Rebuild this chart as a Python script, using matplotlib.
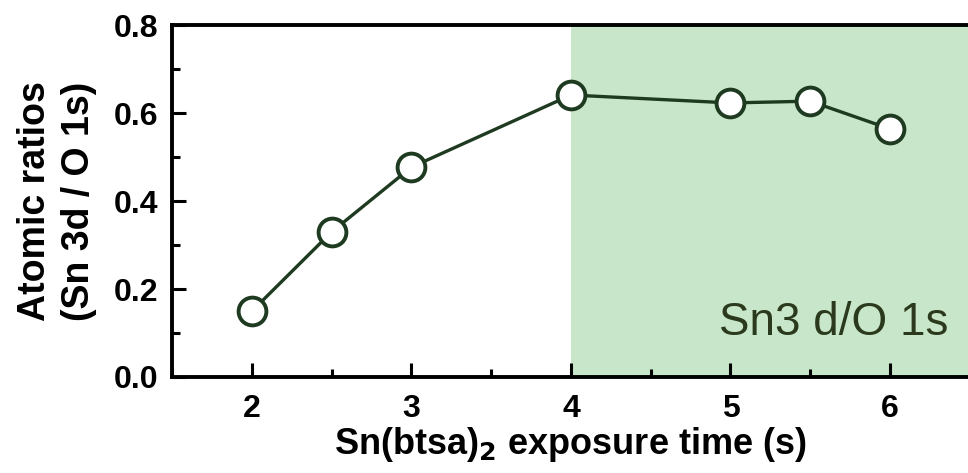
import matplotlib.pyplot as plt
from matplotlib.ticker import MultipleLocator

# datos
tiempo = [2, 2.5, 3, 4, 5, 5.5, 6]
ratio = [0.15, 0.33, 0.477, 0.641, 0.623, 0.627, 0.564]
zona_inicio = 4

plt.rcParams['font.family'] = ['Liberation Sans', 'DejaVu Sans']

fig = plt.figure(figsize=(9.68, 4.73), dpi=100)
ax = fig.add_axes([0.178, 0.203, 0.822, 0.744])

ax.set_xlim(1.5, 6.49)
ax.set_ylim(0, 0.8)

ax.axvspan(zona_inicio, 6.49, color='#c8e6c9', lw=0, zorder=0)

verde = '#1e3a20'
ax.plot(tiempo, ratio, color=verde, lw=2.4, marker='o', markersize=20,
        markerfacecolor='white', markeredgecolor=verde, markeredgewidth=2.8, zorder=3)

ax.text(6.37, 0.095, 'Sn3 d/O 1s', ha='right', va='baseline', fontsize=33,
        color='#2b3a1c')

ax.xaxis.set_major_locator(MultipleLocator(1))
ax.xaxis.set_minor_locator(MultipleLocator(0.5))
ax.yaxis.set_major_locator(MultipleLocator(0.2))
ax.yaxis.set_minor_locator(MultipleLocator(0.1))
ax.yaxis.set_major_formatter(plt.FormatStrFormatter('%.1f'))

ax.tick_params(which='both', direction='in', width=2.2, labelsize=23, top=False, right=False)
ax.tick_params(which='major', length=10)
ax.tick_params(which='minor', length=6)
ax.tick_params(axis='x', pad=12)
ax.tick_params(axis='y', pad=10)
for lbl in ax.get_xticklabels() + ax.get_yticklabels():
    lbl.set_fontweight('bold')

for lado in ['left', 'bottom', 'top']:
    ax.spines[lado].set_linewidth(2.8)
ax.spines['right'].set_visible(False)

ax.set_xlabel('Sn(btsa)$_\\mathbf{2}$ exposure time (s)', fontsize=26, fontweight='bold', labelpad=1)
ax.set_ylabel('Atomic ratios\n(Sn 3d / O 1s)', fontsize=27, fontweight='bold', labelpad=12,
              linespacing=1.3)

plt.savefig('out.png', dpi=100)
